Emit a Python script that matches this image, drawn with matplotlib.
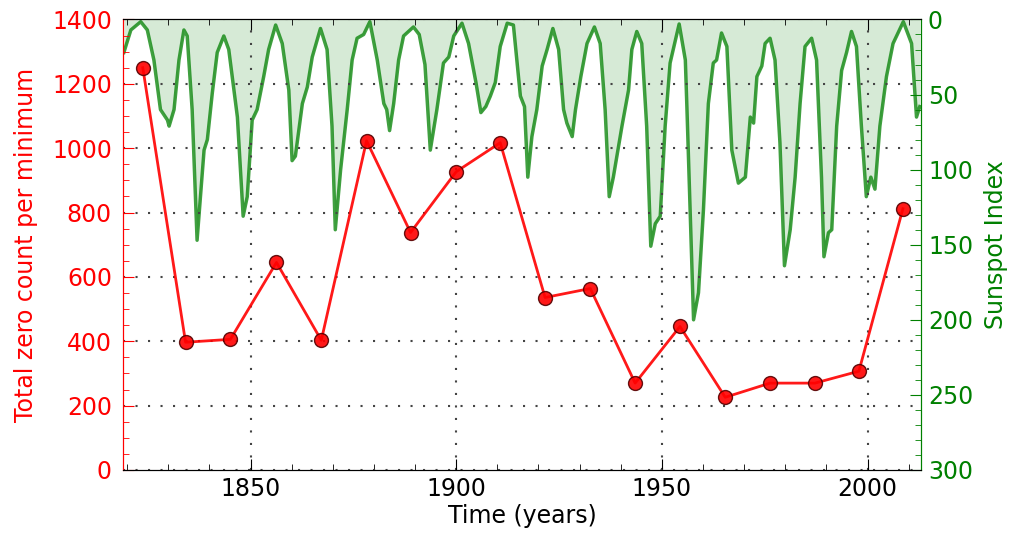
import matplotlib
matplotlib.use('Agg')
import matplotlib.pyplot as plt
from matplotlib.ticker import MultipleLocator

# zero counts at each solar minimum
min_years = [1823.8, 1834.2, 1845.1, 1856.3, 1867.2, 1878.2, 1888.9, 1900.0, 1910.7,
             1921.6, 1932.6, 1943.5, 1954.4, 1965.4, 1976.3, 1987.2, 1997.9, 2008.6]
zero_counts = [1250, 397, 406, 645, 403, 1023, 738, 927, 1017,
               536, 564, 270, 446, 226, 270, 270, 307, 812]

# smoothed sunspot index
ssn_years = [1819.2, 1820.9, 1823.3, 1824.9, 1826.5, 1828.1, 1829.8, 1830.2, 1831.4, 1832.6,
             1833.8, 1834.6, 1835.8, 1837.0, 1838.7, 1839.5, 1840.7, 1841.9, 1843.5, 1844.7,
             1846.8, 1848.2, 1849.2, 1850.4, 1851.6, 1853.2, 1854.4, 1856.1, 1857.7, 1859.3,
             1860.1, 1860.9, 1862.6, 1863.8, 1865.0, 1867.0, 1868.6, 1869.8, 1870.6, 1871.9,
             1873.5, 1874.7, 1875.9, 1877.5, 1879.0, 1880.8, 1882.4, 1883.1, 1883.8, 1884.8,
             1886.0, 1887.2, 1889.6, 1891.0, 1892.4, 1893.7, 1895.3, 1896.9, 1898.2, 1899.4,
             1901.4, 1903.0, 1904.8, 1906.0, 1907.2, 1908.3, 1909.5, 1910.7, 1912.4, 1913.9,
             1915.6, 1916.6, 1917.4, 1918.4, 1919.6, 1920.9, 1922.1, 1923.5, 1924.9, 1926.1,
             1926.9, 1928.2, 1929.0, 1930.3, 1931.8, 1933.6, 1935.0, 1936.2, 1937.2, 1938.2,
             1940.3, 1941.9, 1942.7, 1943.9, 1945.1, 1946.3, 1947.3, 1948.4, 1949.6, 1950.8,
             1952.0, 1954.2, 1955.7, 1956.1, 1957.7, 1958.9, 1960.1, 1961.3, 1962.5, 1963.3,
             1964.5, 1965.8, 1967.0, 1968.6, 1970.3, 1971.5, 1972.3, 1973.1, 1974.3, 1975.1,
             1976.3, 1977.5, 1978.7, 1979.8, 1981.2, 1982.4, 1983.6, 1984.8, 1986.4, 1987.6,
             1988.8, 1989.4, 1990.5, 1991.3, 1992.5, 1993.7, 1994.9, 1996.1, 1997.3, 1998.5,
             1999.7, 2000.8, 2001.8, 2003.0, 2004.6, 2006.2, 2008.7, 2010.7, 2011.9, 2012.7]
ssn_values = [22, 7, 1.5, 7, 27, 60, 67, 71, 60, 27,
              7, 11, 60, 147, 87, 80, 49, 22, 11, 20,
              65, 131, 118, 67, 60, 38, 20, 3.7, 16, 47,
              94, 91, 56, 45, 25, 6, 20, 71, 140, 100,
              60, 27, 12.5, 10, 1.5, 27, 56, 60, 74, 56,
              27, 11, 5, 10, 30, 87, 60, 29, 25, 11,
              2.5, 16, 42, 62, 58, 51, 42, 18, 2.5, 3.7,
              51, 58, 105, 78, 60, 31, 20, 6, 20, 60,
              69, 78, 60, 38, 16, 5, 16, 60, 118, 105,
              71, 47, 20, 8, 16, 71, 151, 136, 131, 71,
              29, 3, 27, 60, 200, 182, 127, 56, 29, 27,
              9, 18, 87, 109, 105, 65, 69, 38, 31, 16,
              12.5, 27, 82, 164, 140, 105, 56, 18, 12.5, 27,
              105, 158, 142, 140, 71, 34, 22, 8, 18, 71,
              118, 105, 113, 71, 38, 16, 1.5, 16, 65, 58]

FS = 17

fig = plt.figure(figsize=(10.11, 5.35), dpi=100)
ax1 = fig.add_axes([0.1217, 0.1215, 0.7893, 0.8421])
ax2 = ax1.twinx()

# sunspot curve, inverted axis
ax2.fill_between(ssn_years, 0, ssn_values, color='green', alpha=0.16, lw=0)
ax2.plot(ssn_years, ssn_values, color='green', alpha=0.75, lw=2.5)
ax2.set_ylim(300, 0)
ax2.yaxis.set_major_locator(MultipleLocator(50))
ax2.yaxis.set_minor_locator(MultipleLocator(10))
ax2.set_ylabel('Sunspot Index', color='green', fontsize=FS, labelpad=8)
ax2.tick_params(axis='y', which='both', colors='green', direction='in', labelsize=FS, pad=5)
ax2.tick_params(axis='y', which='major', length=8)
ax2.tick_params(axis='y', which='minor', length=4)

# zero counts on top
ax1.set_zorder(ax2.get_zorder() + 1)
ax1.patch.set_visible(False)
ax1.plot(min_years, zero_counts, color='red', lw=2, marker='o', markersize=10,
         markerfacecolor='red', markeredgecolor='#550000', alpha=0.9)
ax1.set_xlim(1819, 2013)
ax1.set_ylim(0, 1400)
ax1.xaxis.set_major_locator(MultipleLocator(50))
ax1.xaxis.set_minor_locator(MultipleLocator(10))
ax1.yaxis.set_major_locator(MultipleLocator(200))
ax1.yaxis.set_minor_locator(MultipleLocator(50))
ax1.grid(True, which='major', color='#444444', linestyle=(0, (1, 5)), lw=1.5)
ax1.set_xlabel('Time (years)', fontsize=FS, labelpad=2)
ax1.set_ylabel('Total zero count per minimum', color='red', fontsize=FS, labelpad=10)
ax1.tick_params(axis='x', which='both', direction='in', top=True, labelsize=FS, color='black', pad=5)
ax1.tick_params(axis='x', which='major', length=8)
ax1.tick_params(axis='x', which='minor', length=4)
ax1.tick_params(axis='y', which='both', colors='red', direction='in', labelsize=FS, pad=8)
ax1.tick_params(axis='y', which='major', length=8)
ax1.tick_params(axis='y', which='minor', length=4)

ax1.spines['left'].set_color('red')
ax2.spines['left'].set_color('red')
ax1.spines['right'].set_color('green')
ax2.spines['right'].set_color('green')
for ax in (ax1, ax2):
    ax.spines['top'].set_color('black')
    ax.spines['bottom'].set_color('black')

plt.savefig('out.png')
